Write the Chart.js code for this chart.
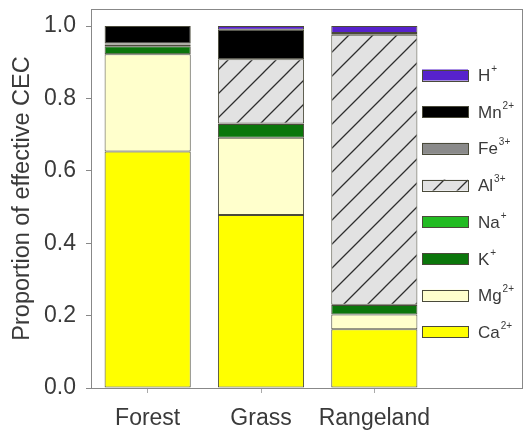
<!DOCTYPE html>
<html>
<head>
<meta charset="utf-8">
<script src="https://cdn.jsdelivr.net/npm/chart.js@4/dist/chart.umd.min.js"></script>
<style>
  html, body { margin: 0; padding: 0; background: #fff; }
  #wrap { width: 523px; height: 433px; }
</style>
</head>
<body>
<div id="wrap"><canvas id="cec" width="523" height="433"></canvas></div>
<script>
// Land-use categories along the x axis
const sites = ['Forest', 'Grass', 'Rangeland'];

// Exchangeable cations, stacked from the bottom up
const ions    = ['Ca', 'Mg', 'K', 'Na', 'Al', 'Fe', 'Mn', 'H'];
const charges = ['2+', '2+', '+', '+', '3+', '3+', '2+', '+'];

// Proportion of effective CEC held by each cation (Forest, Grass, Rangeland)
const ca = [0.653, 0.478, 0.162];
const mg = [0.269, 0.213, 0.041];
const k  = [0.022, 0.038, 0.026];
const na = [0.005, 0.002, 0.001];
const al = [0.000, 0.177, 0.746];
const fe = [0.003, 0.000, 0.000];
const mn = [0.048, 0.082, 0.005];
const h  = [0.000, 0.010, 0.019];

// Y axis tick values
const yTicks = [0.0, 0.2, 0.4, 0.6, 0.8, 1.0];

const FONT = "'Liberation Sans', Arial, sans-serif";
const TEXT = '#3a3a3a';
const FRAME = '#888888';
const EDGE = '#4a4a3a';
const FRAME_RIGHT = 522;

// Diagonal hatch used for exchangeable aluminium
function hatch() {
  const s = 24;
  const c = document.createElement('canvas');
  c.width = s; c.height = s;
  const g = c.getContext('2d');
  g.fillStyle = '#e2e2e2';
  g.fillRect(0, 0, s, s);
  g.strokeStyle = '#2e2e2e';
  g.lineWidth = 1.3;
  g.beginPath();
  g.moveTo(0, s); g.lineTo(s, 0);
  g.moveTo(-2, 2); g.lineTo(2, -2);
  g.moveTo(s - 2, s + 2); g.lineTo(s + 2, s - 2);
  g.stroke();
  return g.createPattern(c, 'repeat');
}

const fills = ['#ffff00', '#ffffcc', '#0b760b', '#22bb22', hatch(), '#8a8a8a', '#000000', '#5722cc'];
const series = [ca, mg, k, na, al, fe, mn, h];

const datasets = series.map((vals, i) => ({
  label: ions[i] + charges[i],
  data: vals,
  backgroundColor: fills[i],
  borderColor: EDGE,
  borderWidth: ctx => (ctx.raw ? 1 : 0),
  borderSkipped: false,
  barPercentage: 0.76,
  categoryPercentage: 1.0
}));

// Outer frame around the plotting region, including the legend panel
const framePlugin = {
  id: 'frame',
  afterDraw(chart) {
    const { ctx, chartArea } = chart;
    ctx.save();
    ctx.strokeStyle = FRAME;
    ctx.lineWidth = 1;
    ctx.strokeRect(Math.round(chartArea.left) + 0.5, Math.round(chartArea.top) + 0.5,
      FRAME_RIGHT - Math.round(chartArea.left), Math.round(chartArea.bottom) - Math.round(chartArea.top));
    ctx.restore();
  }
};

// Legend with superscript charges, listed top (H) to bottom (Ca)
const legendPlugin = {
  id: 'ionLegend',
  afterDraw(chart) {
    const { ctx } = chart;
    const n = ions.length;
    const x0 = 422, w = 46, bh = 11, tx = 478;
    const yTop = 75, step = 36.7;
    ctx.save();
    for (let j = 0; j < n; j++) {
      const i = n - 1 - j;
      const yc = yTop + j * step;
      ctx.fillStyle = fills[i];
      ctx.fillRect(x0, yc - bh / 2, w, bh);
      ctx.strokeStyle = EDGE;
      ctx.lineWidth = 1;
      ctx.strokeRect(x0 + 0.5, Math.round(yc - bh / 2) + 0.5, w, bh);
      ctx.fillStyle = TEXT;
      ctx.textBaseline = 'alphabetic';
      ctx.textAlign = 'left';
      ctx.font = '17px ' + FONT;
      const base = yc + 6;
      ctx.fillText(ions[i], tx, base);
      const bw = ctx.measureText(ions[i]).width;
      ctx.font = '10px ' + FONT;
      ctx.fillText(charges[i], tx + bw + 1, base - 9);
    }
    ctx.restore();
  }
};

new Chart(document.getElementById('cec'), {
  type: 'bar',
  data: { labels: sites, datasets },
  options: {
    responsive: false,
    animation: false,
    layout: { padding: { left: 0, top: 9, right: 523 - 431, bottom: 0 } },
    plugins: {
      legend: { display: false },
      tooltip: { enabled: false }
    },
    scales: {
      x: {
        stacked: true,
        offset: true,
        grid: { display: true, offset: false, drawOnChartArea: false, drawTicks: true, tickLength: 5, color: '#aaaaaa' },
        border: { display: false },
        ticks: {
          color: TEXT,
          font: { family: FONT, size: 23 },
          padding: 12,
          autoSkip: false,
          minRotation: 0,
          maxRotation: 0
        },
        afterFit(scale) {
          scale.height = 433 - 388;
          scale.paddingLeft = 0;
          scale.paddingRight = 0;
        }
      },
      y: {
        stacked: true,
        min: 0,
        max: 1.047,
        afterBuildTicks(scale) { scale.ticks = yTicks.map(v => ({ value: v })); },
        grid: { display: true, drawOnChartArea: false, drawTicks: true, tickLength: 5, color: FRAME },
        border: { display: false },
        ticks: {
          color: TEXT,
          font: { family: FONT, size: 23 },
          padding: 10,
          callback: v => Number(v).toFixed(1)
        },
        title: {
          display: true,
          text: 'Proportion of effective CEC',
          color: TEXT,
          font: { family: FONT, size: 23.5 },
          padding: { top: 8, bottom: 0 }
        },
        afterFit(scale) {
          scale.width = 91;
          scale.paddingTop = 0;
          scale.paddingBottom = 0;
        }
      }
    }
  },
  plugins: [framePlugin, legendPlugin]
});
</script>
</body>
</html>
